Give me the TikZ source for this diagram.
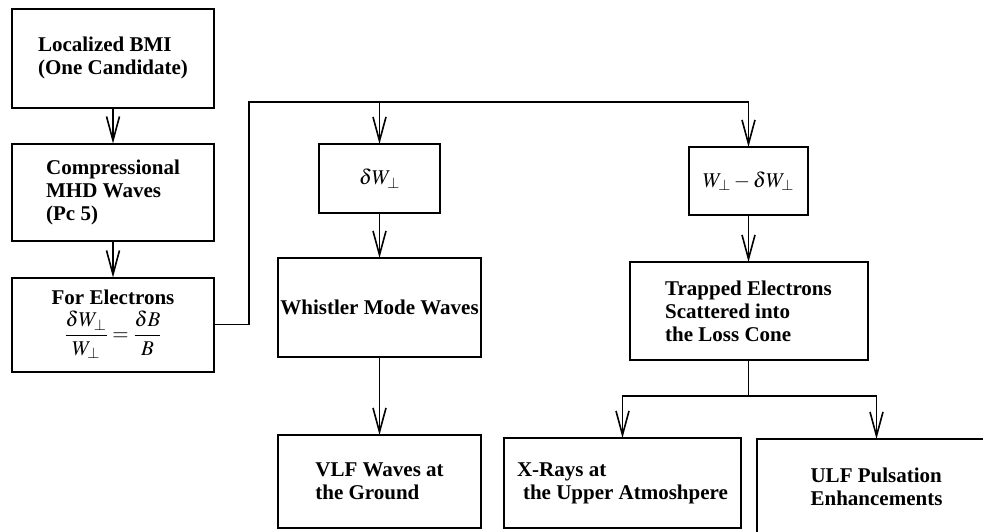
\documentclass[tikz,border=0pt]{standalone}
\usepackage{amsmath}
\usepackage{mathptmx}
\usepackage[no-math]{fontspec}
\setmainfont{Liberation Serif}
\usepackage{tikz}
\usetikzlibrary{arrows.meta,positioning}

\begin{document}
\begin{tikzpicture}[
  x=1pt, y=-1pt,
  every node/.style={font=\fontsize{21}{23}\selectfont\bfseries, align=center},
  box/.style={draw, line width=2pt, inner sep=0pt, outer sep=0pt},
  arr/.style={-{Straight Barb[length=24pt,width=13pt]}, line width=1.6pt}
]
\path[use as bounding box, fill=white] (0,0) rectangle (983,531);
\clip (0,0) rectangle (983,531);

\node[box, minimum width=202pt, minimum height=99pt, align=left] (bmi) at (113,58) {Localized BMI\\(One Candidate)};
\node[box, minimum width=202pt, minimum height=97pt, align=left, below=36pt of bmi] (mhd) {Compressional\\MHD Waves\\(Pc 5)};
\node[box, minimum width=202pt, minimum height=94pt, below=37pt of mhd] (elec) {For Electrons\\[5pt]$\dfrac{\delta W_\perp}{W_\perp}=\dfrac{\delta B}{B}$};

\node[box, minimum width=121pt, minimum height=69pt] (dw) at (379.5,178.5) {$\delta W_\perp$};
\node[box, minimum width=203pt, minimum height=99pt, below=45pt of dw] (whistler) {Whistler Mode Waves};
\node[box, minimum width=203pt, minimum height=93pt, align=left, below=78pt of whistler] (vlf) {VLF Waves at\\the Ground};

\node[box, minimum width=119pt, minimum height=68pt] (wdw) at (748.5,181) {$W_\perp - \delta W_\perp$};
\node[box, minimum width=238pt, minimum height=98pt, align=left, below=47pt of wdw] (trap) {Trapped Electrons\\Scattered into\\the Loss Cone};

\node[box, minimum width=237pt, minimum height=90pt, align=left] (xray) at (622.5,483) {X-Rays at\\\hspace*{6pt}the Upper Atmoshpere};
\node[box, minimum width=240pt, minimum height=96pt, align=left] (ulf) at (876.5,487) {ULF Pulsation\\Enhancements};

\coordinate (up) at (249,102);
\coordinate (split) at (748.5,396);

\draw[arr] (bmi) -- (mhd);
\draw[arr] (mhd) -- (elec);
\draw[arr] (elec) -| (up) -| (wdw);
\draw[arr] (up) -| (dw);
\draw[arr] (dw) -- (whistler);
\draw[arr] (whistler) -- (vlf);
\draw[arr] (wdw) -- (trap);
\draw[arr] (trap) -- (split) -| (xray);
\draw[arr] (split) -| (ulf);
\end{tikzpicture}
\end{document}
